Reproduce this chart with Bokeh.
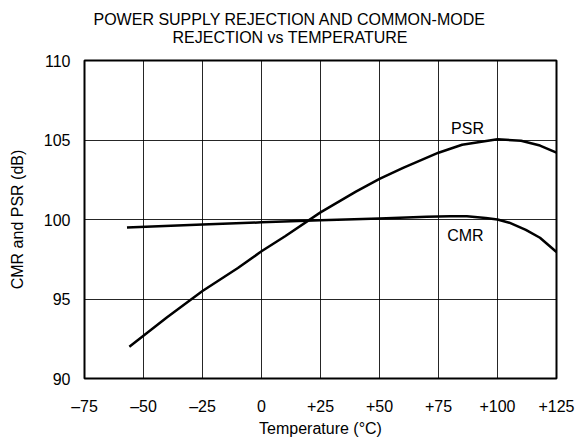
from bokeh.plotting import figure
from bokeh.models import FixedTicker, Label, Title
from bokeh.embed import file_html
from bokeh.resources import INLINE

# Data
psr_temp = [-56, -40, -25, -10, 0, 10, 25, 40, 50, 60, 75, 85, 100, 110, 118, 125]
psr_db = [92.0, 93.85, 95.5, 96.95, 98.0, 98.95, 100.45, 101.75, 102.55, 103.25,
          104.2, 104.7, 105.05, 104.95, 104.65, 104.2]
cmr_temp = [-57, -25, 0, 25, 50, 70, 80, 87, 95, 100, 105, 112, 118, 125]
cmr_db = [99.5, 99.68, 99.82, 99.95, 100.07, 100.17, 100.2, 100.2, 100.1, 100.0,
          99.8, 99.35, 98.85, 97.95]
x_ticks = [-75, -50, -25, 0, 25, 50, 75, 100, 125]
x_tick_labels = ["–75", "–50", "–25", "0", "+25", "+50", "+75", "+100", "+125"]
y_ticks = [90, 95, 100, 105, 110]
title_lines = ["POWER SUPPLY REJECTION AND COMMON-MODE", "REJECTION vs TEMPERATURE"]

FONT = "Liberation Sans"
FS = "16px"

p = figure(width=580, height=440, output_backend="svg", toolbar_location=None,
           x_range=(-75, 125), y_range=(90, 110),
           min_border_left=84, min_border_right=24, min_border_top=60, min_border_bottom=62)
p.title = None
p.background_fill_color = "white"
p.border_fill_color = "white"
p.outline_line_color = "black"
p.outline_line_width = 2
p.outline_line_alpha = 1

p.xaxis.ticker = FixedTicker(ticks=x_ticks)
p.xaxis.major_label_overrides = {t: l for t, l in zip(x_ticks, x_tick_labels)}
p.yaxis.ticker = FixedTicker(ticks=y_ticks)

for ax in (p.xaxis[0], p.yaxis[0]):
    ax.axis_line_color = None
    ax.major_tick_line_color = None
    ax.minor_tick_line_color = None
    ax.major_tick_in = 0
    ax.major_tick_out = 0
    ax.major_label_text_font = FONT
    ax.major_label_text_font_size = FS
    ax.major_label_text_color = "black"
    ax.axis_label_text_font = FONT
    ax.axis_label_text_font_size = FS
    ax.axis_label_text_font_style = "normal"
    ax.axis_label_text_color = "black"

p.xaxis.axis_label = "Temperature (°C)"
p.yaxis.axis_label = "CMR and PSR (dB)"
p.xaxis.major_label_standoff = 19
p.yaxis.major_label_standoff = 14
p.xaxis.axis_label_standoff = 2
p.yaxis.axis_label_standoff = 15

p.xgrid.ticker = FixedTicker(ticks=x_ticks)
p.ygrid.ticker = FixedTicker(ticks=y_ticks)
p.grid.grid_line_color = "black"
p.grid.grid_line_width = 1
p.grid.grid_line_alpha = 0.85

p.line(psr_temp, psr_db, line_color="black", line_width=2.5)
p.line(cmr_temp, cmr_db, line_color="black", line_width=2.5)

p.add_layout(Label(x=87.3, y=105.72, text="PSR", text_align="center", text_baseline="middle",
                   text_font=FONT, text_font_size=FS, text_color="black"))
p.add_layout(Label(x=86.4, y=99.0, text="CMR", text_align="center", text_baseline="middle",
                   text_font=FONT, text_font_size=FS, text_color="black"))

# two-line title (nearest line first)
t2 = Title(text=title_lines[1], align="left", offset=88, standoff=29,
           text_font=FONT, text_font_size=FS, text_font_style="normal", text_color="black")
t1 = Title(text=title_lines[0], align="left", offset=9, standoff=-30,
           text_font=FONT, text_font_size=FS, text_font_style="normal", text_color="black")
p.add_layout(t2, "above")
p.add_layout(t1, "above")

open("out.html", "w").write(file_html(p, INLINE))
